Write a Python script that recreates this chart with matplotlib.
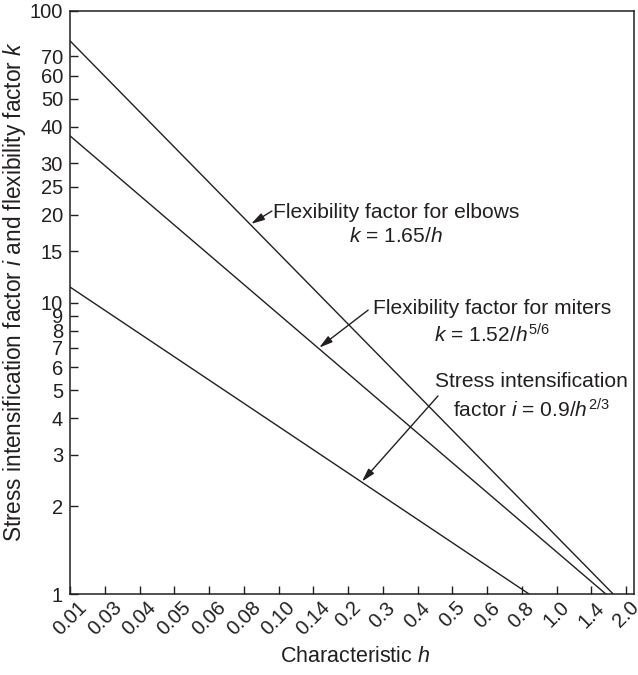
import matplotlib
matplotlib.use("Agg")
import matplotlib.pyplot as plt
from matplotlib.ticker import FixedLocator, NullLocator

plt.rcParams['font.family'] = ['Liberation Sans', 'DejaVu Sans']
plt.rcParams['mathtext.fontset'] = 'custom'
plt.rcParams['mathtext.it'] = 'Liberation Sans:italic'
plt.rcParams['mathtext.rm'] = 'Liberation Sans'

# Data
h_labels = ["0.01", "0.03", "0.04", "0.05", "0.06", "0.08", "0.10", "0.14", "0.2",
            "0.3", "0.4", "0.5", "0.6", "0.8", "1.0", "1.4", "2.0"]
y_ticks = [1, 2, 3, 4, 5, 6, 7, 8, 9, 10, 15, 20, 25, 30, 40, 50, 60, 70, 100]

# Line endpoints (x in tick-position units, y values)
elbow_x = [0, 15.63]
elbow_y = [79, 1]
miter_x = [0, 15.42]
miter_y = [37.3, 1]
stress_x = [0, 13.21]
stress_y = [11.3, 1]

ink = '#231f20'

fig = plt.figure(figsize=(6.38, 6.75), dpi=100)
ax = fig.add_axes([70/638, 1-594/675, (634-70)/638, (594-11)/675])

for xs, ys in [(elbow_x, elbow_y), (miter_x, miter_y), (stress_x, stress_y)]:
    ax.plot(xs, ys, color=ink, lw=1.0)

ax.set_yscale('log')
ax.set_ylim(1, 100)
ax.set_xlim(0, (634-70)/34.75)
ax.yaxis.set_major_locator(FixedLocator(y_ticks))
ax.yaxis.set_minor_locator(NullLocator())
ax.set_yticklabels([str(v) for v in y_ticks])
ax.set_xticks(range(len(h_labels)))
ax.set_xticklabels(h_labels, rotation=45, ha='center', va='top')

ax.tick_params(axis='both', direction='in', length=6, width=1.0, color=ink,
               labelsize=14.5, labelcolor=ink)
ax.tick_params(axis='x', pad=3)
ax.tick_params(axis='y', pad=5)
for s in ax.spines.values():
    s.set_color(ink)
    s.set_linewidth(1.1)

ax.set_xlabel('Characteristic $h$', fontsize=15.5, color=ink)
ax.xaxis.set_label_coords((355-70)/(634-70), -(646-594)/(594-11))
ax.set_ylabel('Stress intensification factor $i$ and flexibility factor $k$',
              fontsize=16.3, color=ink)
ax.yaxis.set_label_coords(-(70-28)/(634-70), (594-292)/(594-11))

fs = 15.1
aprops = dict(arrowstyle='-|>,head_length=0.8,head_width=0.22', color=ink, lw=1.0,
              shrinkA=0, shrinkB=0)

# Elbows
ax.text(9.38, 20.4, 'Flexibility factor for elbows', ha='center', va='center',
        fontsize=fs, color=ink)
ax.text(9.38, 16.8, '$k$ = 1.65/$h$', ha='center', va='center', fontsize=fs, color=ink)
ax.annotate('', xy=(5.21, 18.6), xytext=(5.81, 20.6), arrowprops=aprops)

# Miters
ax.text(12.14, 9.5, 'Flexibility factor for miters', ha='center', va='center',
        fontsize=fs, color=ink)
ax.text(12.14, 7.74, '$k$ = 1.52/$h^{5/6}$', ha='center', va='center', fontsize=fs, color=ink)
ax.annotate('', xy=(7.17, 7.0), xytext=(8.58, 9.42), arrowprops=aprops)

# Stress
ax.text(13.29, 5.34, 'Stress intensification', ha='center', va='center',
        fontsize=fs, color=ink)
ax.text(13.29, 4.28, 'factor $i$ = 0.9/$h^{2/3}$', ha='center', va='center',
        fontsize=fs, color=ink)
ax.annotate('', xy=(8.40, 2.43), xytext=(10.59, 4.78), arrowprops=aprops)

fig.savefig('out.png', dpi=100)
